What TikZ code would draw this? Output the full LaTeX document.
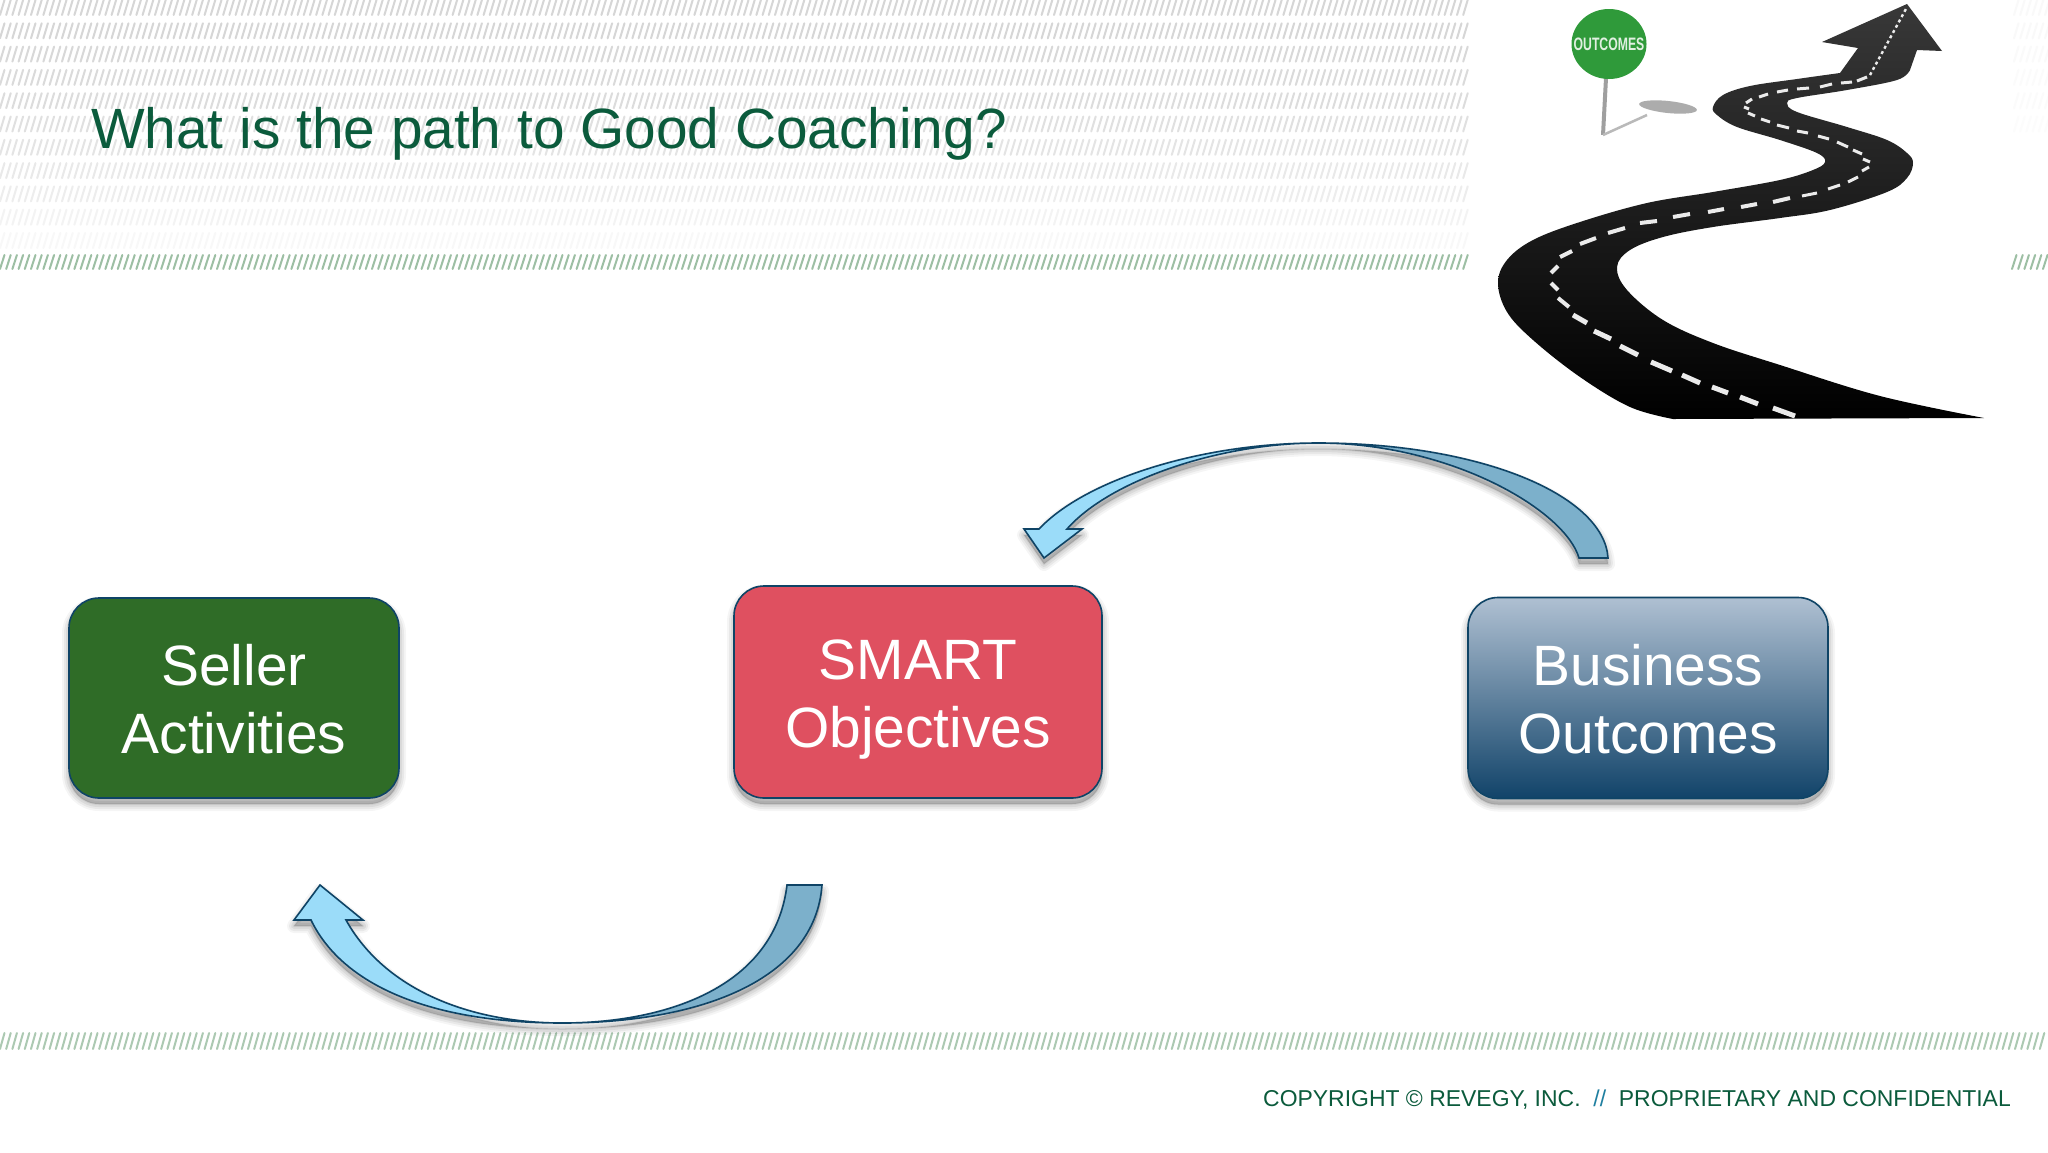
\documentclass[tikz,border=0pt]{standalone}
\usepackage{fontspec}
\setmainfont{Liberation Sans}
\usepackage{tikz}
\usetikzlibrary{arrows,shapes,positioning}
\definecolor{titlegreen}{HTML}{0B5B3C}
\definecolor{boxline}{HTML}{0F4466}
\definecolor{sellergreen}{HTML}{2F6C27}
\definecolor{smartred}{HTML}{DF5060}
\definecolor{outcometop}{HTML}{AFC0D2}
\definecolor{outcomebottom}{HTML}{114369}
\definecolor{arrowlight}{HTML}{9BDCF9}
\definecolor{arrowdark}{HTML}{7CB0CB}
\definecolor{hatchgreen}{HTML}{9DBFA4}
\definecolor{hatchgrey}{HTML}{D6D6D6}
\definecolor{signgreen}{HTML}{2F9A3A}
\definecolor{slashblue}{HTML}{1F7FA0}
\tikzset{
  softshadow/.style={
    preaction={draw=black,fill=black,opacity=.04,line width=14pt,line join=round,transform canvas={yshift=-6pt}},
    preaction={draw=black,fill=black,opacity=.05,line width=10pt,line join=round,transform canvas={yshift=-6pt}},
    preaction={draw=black,fill=black,opacity=.06,line width=6pt,line join=round,transform canvas={yshift=-6pt}},
    preaction={draw=black,fill=black,opacity=.06,line width=2pt,line join=round,transform canvas={yshift=-6pt}}},
  stepbox/.style={draw=boxline,line width=1.6pt,rounded corners=30pt,text=white,align=center,
    font=\fontsize{56.9}{68}\selectfont,softshadow},
  curvearrow/.style={draw=boxline,line width=1.6pt,line join=miter},
  hatchline/.style={line width=2pt,line cap=round},
  roadmark/.style={white!92!black,line cap=butt}
}
\begin{document}
\begin{tikzpicture}[x=1pt,y=-1pt]
\tikzstyle{every node}+=[inner sep=0pt]
\useasboundingbox (0,0) rectangle (2048,1152);
\fill [white] (0,0) rectangle (2048,1152);
\foreach \r/\o in {0/100,1/100,2/95,3/90,4/85,5/75,6/65,7/55,8/45,9/30,10/18}
  \draw [hatchline,hatchgrey!\o] foreach \x in {0,6.2,...,1464} {(\x,\r*23.3+15) -- ++(4.5,-15)};
\foreach \r/\o in {0/15,1/15,2/12,3/10,4/10,5/8}
  \draw [hatchline,hatchgrey!\o] foreach \x in {2014,2020.2,...,2046} {(\x,\r*23.3+15) -- ++(4.5,-15)};
\draw [hatchline,hatchgreen] foreach \x in {0,6.2,...,1464} {(\x,269) -- ++(4.5,-14)};
\draw [hatchline,hatchgreen] foreach \x in {2012,2018.2,...,2044} {(\x,269) -- ++(4.5,-14)};
\draw [hatchline,hatchgreen!85] foreach \x in {0,6.2,...,2044} {(\x,1049) -- ++(4.5,-16)};
\node (pagetitle) [anchor=base west,text=titlegreen,font=\fontsize{56.8}{68}\selectfont] at (91,148) {What is the path to Good Coaching?};
\node (copyright) [anchor=base east,text=titlegreen,font=\fontsize{22.95}{26}\selectfont] at (2011,1106)
  {COPYRIGHT © REVEGY, INC.\ \ {\color{slashblue}//}\ \ PROPRIETARY AND CONFIDENTIAL};
\node (seller) [stepbox,fill=sellergreen,minimum width=330,minimum height=200] at (234,698) {\rule{0pt}{44pt}Seller\\Activities};
\node (smart) [stepbox,fill=smartred,minimum width=368,minimum height=212] at (918,692) {\rule{0pt}{55pt}SMART\\Objectives};
\node (business) [stepbox,top color=outcometop,bottom color=outcomebottom,minimum width=360,minimum height=201] at (1648,698) {\rule{0pt}{44pt}Business\\Outcomes};
\coordinate (topapex) at (1318,443);
\coordinate (lowapex) at (562,1023);
\path [softshadow] (1608,558) .. controls (1604,495) and (1480,443) .. (topapex) .. controls (1200,443) and (1085,480) .. (1039,529) -- (1024,529) -- (1044,558) -- (1082,529) -- (1067,529) .. controls (1110,480) and (1220,443) .. (topapex) .. controls (1450,443) and (1565,510) .. (1579,558) -- cycle;
\path [softshadow] (822,885) .. controls (815,980) and (700,1023) .. (lowapex) .. controls (440,1023) and (345,990) .. (311,920) -- (294,920) -- (320,885) -- (363,920) -- (346,920) .. controls (385,990) and (470,1023) .. (lowapex) .. controls (670,1023) and (775,985) .. (787,885) -- cycle;
\draw [curvearrow,fill=arrowdark] (1608,558) .. controls (1604,495) and (1480,443) .. (topapex) .. controls (1450,443) and (1565,510) .. (1579,558) -- cycle;
\draw [curvearrow,fill=arrowlight] (topapex) .. controls (1200,443) and (1085,480) .. (1039,529) -- (1024,529) -- (1044,558) -- (1082,529) -- (1067,529) .. controls (1110,480) and (1220,443) .. (topapex) -- cycle;
\draw [curvearrow,fill=arrowdark] (822,885) .. controls (815,980) and (700,1023) .. (lowapex) .. controls (670,1023) and (775,985) .. (787,885) -- cycle;
\draw [curvearrow,fill=arrowlight] (lowapex) .. controls (440,1023) and (345,990) .. (311,920) -- (294,920) -- (320,885) -- (363,920) -- (346,920) .. controls (385,990) and (470,1023) .. (lowapex) -- cycle;
\shade [top color=black!78,middle color=black!90,bottom color=black] plot [smooth,tension=.6] coordinates {(1673,419) (1630,407) (1580,377) (1533,340) (1507,312) (1498,283) (1507,260) (1533,240) (1580,222) (1647,203) (1713,192) (1780,180) (1813,170) (1825,162) (1817,153) (1780,140) (1737,127) (1717,115) (1713,107) (1723,95) (1750,86) (1797,79) (1840,73)}
  -- (1858,48) -- (1822,42) -- (1907,4) -- (1942,51) -- (1917,50)
  -- plot [smooth,tension=.6] coordinates {(1910,70) (1897,80) (1847,90) (1797,98) (1787,103) (1797,112) (1847,127) (1887,140) (1907,153) (1913,163) (1907,178) (1887,192) (1830,210) (1780,218) (1713,227) (1663,237) (1630,250) (1617,267) (1627,290) (1663,320) (1713,343) (1780,365) (1880,396) (1984,418)} -- cycle;
\foreach \xa/\ya/\xb/\yb in {1640/223/1657/221,1673/217/1690/214,1708/212/1724/209,1741/207/1757/204,1773/202/1790/198,1608/233/1625/228,1580/244/1596/238,1560/257/1572/251,1551/273/1558/266,1551/283/1558/290,1558/298/1569/307}
  \draw [roadmark,line width=4pt] (\xa,\ya) -- (\xb,\yb);
\foreach \xa/\ya/\xb/\yb in {1573/315/1587/323,1594/331/1611/339,1620/346/1638/355,1651/362/1672/371,1682/375/1700/383,1712/387/1728/393,1740/397/1758/404,1773/408/1795/416}
  \draw [roadmark,line width=5pt] (\xa,\ya) -- (\xb,\yb);
\foreach \xa/\ya/\xb/\yb in {1857/81/1867/77,1841/83/1852/82,1820/87/1832/84,1797/89/1809/88,1777/92/1788/90,1759/97/1768/94,1746/103/1752/99,1744/107/1749/109,1748/113/1755/116,1761/119/1770/122,1777/125/1789/128,1797/131/1808/133,1818/136/1829/139,1837/142/1848/147,1853/150/1862/154,1863/159/1870/162,1862/171/1869/167,1848/182/1858/177,1828/189/1840/185,1802/196/1817/193}
  \draw [roadmark,line width=3pt] (\xa,\ya) -- (\xb,\yb);
\draw [roadmark,line width=2.4pt,dash pattern=on 3pt off 3pt] (1870,75) -- (1907,7);
\draw [gray!75,line width=4pt] (1606,78) -- (1603,135);
\draw [gray!55,line width=2.5pt] (1603,135) -- (1647,115);
\fill [gray!65,rotate around={-6:(1668,107)}] (1668,107) ellipse (29 and 6);
\node (signpost) [ellipse,fill=signgreen,minimum width=75,minimum height=70] at (1609,44) {};
\node (signtext) [text=white!85!signgreen,font=\bfseries\fontsize{18}{18}\selectfont,xscale=0.68,transform shape] at (signpost) {OUTCOMES};
\end{tikzpicture}
\end{document}
